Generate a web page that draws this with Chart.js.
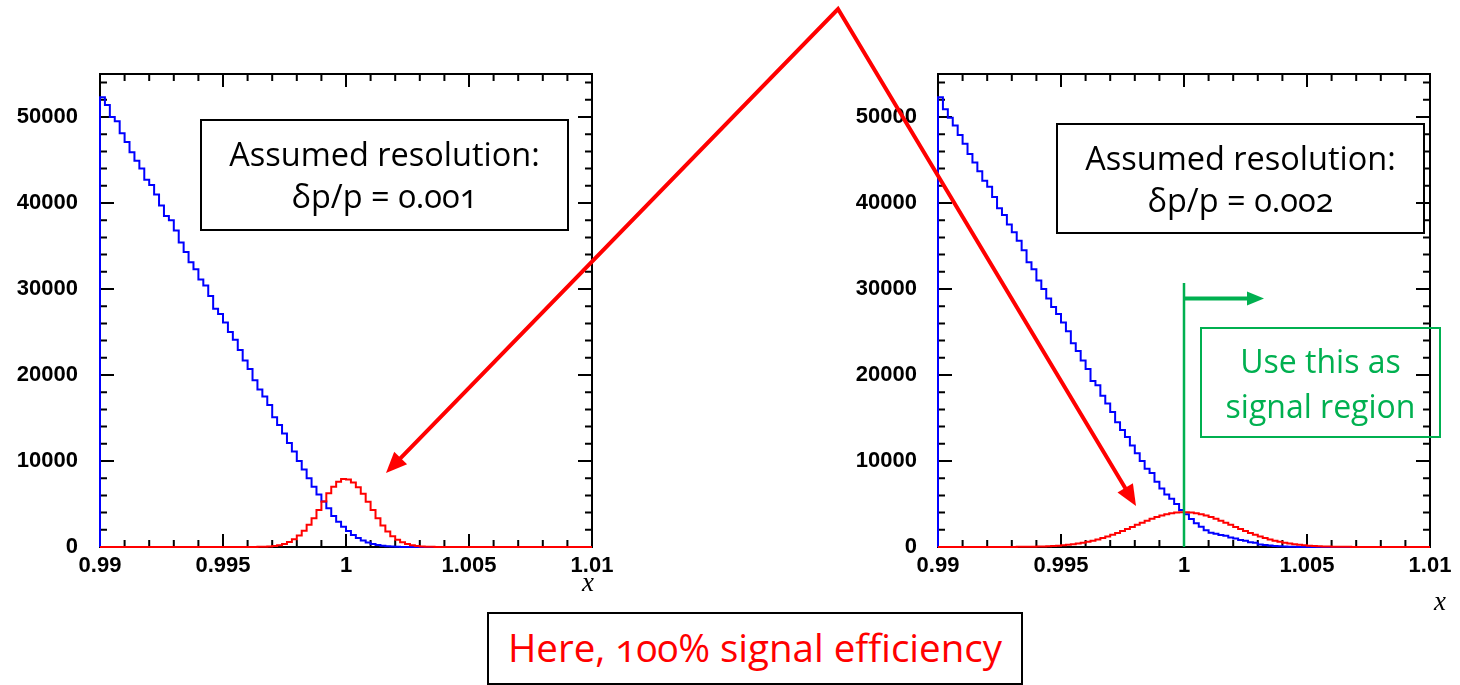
<!DOCTYPE html>
<html lang="en">
<head>
<meta charset="UTF-8">
<title>Signal region</title>
<style>
  body { margin: 0; width: 1460px; height: 685px; position: relative; overflow: hidden; background: #fff; }
  canvas { position: absolute; }
  #overlay { left: 0; top: 0; z-index: 10; pointer-events: none; }
  .box {
    position: absolute; box-sizing: border-box; border: 2px solid #000;
    display: flex; align-items: center; justify-content: center; text-align: center;
    font-family: "Open Sans", sans-serif; font-feature-settings: "onum";
  }
  .res { font-size: 32.5px; line-height: 42px; color: #000; }
  .green { border: 2px solid #00b050; color: #00b050; font-size: 32px; line-height: 45px; }
  .here { color: #ff0000; font-size: 38.5px; padding-bottom: 4px; }
  .xlab { position: absolute; font-family: "Liberation Serif", serif; font-style: italic; font-size: 27px; }
</style>
</head>
<body>

<canvas id="left" width="640" height="540" style="left:0;top:60px"></canvas>
<canvas id="right" width="620" height="540" style="left:840px;top:60px"></canvas>

<div class="box res" style="left:200px;top:119px;width:369px;height:112px">Assumed resolution:<br>&delta;p/p = 0.001</div>
<div class="box res" style="left:1056px;top:123px;width:369px;height:111px">Assumed resolution:<br>&delta;p/p = 0.002</div>
<div class="box green" style="left:1200px;top:327px;width:241px;height:111px">Use this as<br>signal region</div>
<div class="box here" style="left:487px;top:612px;width:536px;height:73px">Here, 100% signal efficiency</div>
<div class="xlab" style="left:582px;top:567px">x</div>
<div class="xlab" style="left:1434px;top:586px">x</div>

<canvas id="overlay" width="1460" height="685"></canvas>

<script src="https://cdn.jsdelivr.net/npm/chart.js"></script>
<script>
// histogram: 100 bins from 0.99 to 1.01
const xMin = 0.99, xMax = 1.01, binWidth = 0.0002
const xTickValues = [0.99, 0.995, 1, 1.005, 1.01]
const xTickLabels = ['0.99', '0.995', '1', '1.005', '1.01']
const yTickValues = [0, 10000, 20000, 30000, 40000, 50000]
const yTickLabels = ['0', '10000', '20000', '30000', '40000', '50000']
const yMax = 55000

// left plot, resolution 0.001
const bkgLeft = [
  52300, 51400, 50000, 49500, 48100, 47100, 45900, 44900, 44000, 42700,
  42100, 41000, 39700, 38500, 38000, 36800, 35400, 34300, 33100, 32300,
  31100, 30400, 29200, 27700, 27100, 26100, 25000, 24100, 22900, 21700,
  20700, 19400, 18300, 17500, 16500, 15100, 14200, 13200, 12100, 11100,
  10000, 9000, 8000, 7000, 6100, 5300, 4500, 3600, 2950, 2350,
  1850, 1400, 1050, 750, 520, 350, 230, 150, 90, 50,
  25, 10, 0, 0, 0, 0, 0, 0, 0, 0,
  0, 0, 0, 0, 0, 0, 0, 0, 0, 0,
  0, 0, 0, 0, 0, 0, 0, 0, 0, 0,
  0, 0, 0, 0, 0, 0, 0, 0, 0, 0
]
const sigLeft = [
  0, 0, 0, 0, 0, 0, 0, 0, 0, 0,
  0, 0, 0, 0, 0, 0, 0, 0, 0, 0,
  0, 0, 0, 0, 0, 0, 0, 0, 0, 0,
  0, 8, 17, 34, 65, 118, 205, 350, 570, 900,
  1330, 1900, 2600, 3350, 4300, 5300, 6250, 7000, 7600, 7900,
  7850, 7500, 6950, 6200, 5250, 4300, 3350, 2500, 1800, 1250,
  850, 550, 340, 200, 115, 60, 30, 15, 7, 0,
  0, 0, 0, 0, 0, 0, 0, 0, 0, 0,
  0, 0, 0, 0, 0, 0, 0, 0, 0, 0,
  0, 0, 0, 0, 0, 0, 0, 0, 0, 0
]

// right plot, resolution 0.002
const bkgRight = [
  52300, 50900, 49900, 49000, 47900, 46900, 45700, 44700, 43700, 42600,
  41900, 40700, 39400, 38600, 37500, 36600, 35600, 34500, 33100, 32300,
  31000, 30000, 28900, 27900, 27100, 26100, 25100, 23700, 22800, 21700,
  20700, 19300, 18800, 17600, 16700, 15700, 14500, 13600, 12800, 11800,
  10900, 10000, 9100, 8600, 7600, 6800, 6100, 5600, 5000, 4300,
  3800, 3250, 2750, 2350, 1950, 1650, 1550, 1400, 1300, 1100,
  1000, 820, 740, 560, 480, 300, 240, 180, 120, 80,
  50, 30, 15, 8, 0, 0, 0, 0, 0, 0,
  0, 0, 0, 0, 0, 0, 0, 0, 0, 0,
  0, 0, 0, 0, 0, 0, 0, 0, 0, 0
]
const sigRight = [
  0, 0, 0, 0, 0, 0, 0, 0, 0, 0,
  0, 0, 0, 5, 7, 10, 15, 20, 28, 38,
  52, 70, 92, 120, 155, 200, 255, 320, 400, 495,
  605, 730, 875, 1040, 1220, 1415, 1630, 1850, 2090, 2330,
  2580, 2820, 3060, 3280, 3480, 3660, 3810, 3925, 4005, 4045,
  4045, 4005, 3925, 3810, 3660, 3480, 3280, 3060, 2820, 2580,
  2330, 2090, 1850, 1630, 1415, 1220, 1040, 875, 730, 605,
  495, 400, 320, 255, 200, 155, 120, 92, 70, 52,
  38, 28, 20, 15, 10, 7, 0, 0, 0, 0,
  0, 0, 0, 0, 0, 0, 0, 0, 0, 0
]

// signal region cut (right plot)
const cutX = 1.0, cutTop = 30700, cutArrowY = 28900
const green = '#00b050'

function histPoints(vals) {
  const pts = [{ x: xMin, y: 0 }]
  vals.forEach((v, i) => pts.push({ x: xMin + i * binWidth, y: v }))
  pts.push({ x: xMax, y: vals[vals.length - 1] })
  return pts
}

// ROOT style frame with inward ticks on all four sides
const rootFrame = {
  id: 'rootFrame',
  beforeDatasetsDraw(chart) {
    const { ctx, chartArea: a, scales: { x, y } } = chart
    ctx.save()
    ctx.strokeStyle = '#000'
    ctx.lineWidth = 2
    ctx.strokeRect(a.left, a.top, a.right - a.left, a.bottom - a.top)
    ctx.beginPath()
    for (let i = 0; i <= 20; i++) {
      const px = x.getPixelForValue(xMin + i * 0.001)
      const len = i % 5 === 0 ? 13 : 7
      ctx.moveTo(px, a.bottom); ctx.lineTo(px, a.bottom - len)
      ctx.moveTo(px, a.top); ctx.lineTo(px, a.top + len)
    }
    for (let v = 0; v <= y.max; v += 2000) {
      const py = y.getPixelForValue(v)
      const len = v % 10000 === 0 ? 14 : 7
      ctx.moveTo(a.left, py); ctx.lineTo(a.left + len, py)
      ctx.moveTo(a.right, py); ctx.lineTo(a.right - len, py)
    }
    ctx.stroke()
    ctx.restore()
  }
}

const cutLine = {
  id: 'cutLine',
  afterDatasetsDraw(chart) {
    const { ctx, chartArea: a, scales: { x, y } } = chart
    const px = x.getPixelForValue(cutX)
    const top = y.getPixelForValue(cutTop)
    const ay = y.getPixelForValue(cutArrowY)
    ctx.save()
    ctx.strokeStyle = green
    ctx.fillStyle = green
    ctx.lineWidth = 2.5
    ctx.beginPath()
    ctx.moveTo(px, top); ctx.lineTo(px, a.bottom)
    ctx.stroke()
    ctx.lineWidth = 4
    ctx.beginPath()
    ctx.moveTo(px, ay); ctx.lineTo(px + 64, ay)
    ctx.stroke()
    ctx.beginPath()
    ctx.moveTo(px + 80, ay); ctx.lineTo(px + 63, ay - 7); ctx.lineTo(px + 63, ay + 7)
    ctx.closePath()
    ctx.fill()
    ctx.restore()
  }
}

function makeChart(id, bkg, sig, yWidth, yPad, rightPad, extra) {
  return new Chart(document.getElementById(id), {
    type: 'line',
    data: {
      datasets: [
        { data: histPoints(sig), borderColor: '#ff0000' },
        { data: histPoints(bkg), borderColor: '#0000ff' }
      ].map(d => Object.assign(d, { borderWidth: 2, pointRadius: 0, stepped: 'before', fill: false, clip: false }))
    },
    options: {
      responsive: false,
      animation: false,
      layout: { autoPadding: false, padding: { left: 0, top: 14, right: rightPad, bottom: 0 } },
      plugins: { legend: { display: false }, tooltip: { enabled: false } },
      scales: {
        x: {
          type: 'linear', min: xMin, max: xMax, bounds: 'data',
          grid: { display: false, drawTicks: false }, border: { display: false },
          afterBuildTicks: s => { s.ticks = xTickValues.map(v => ({ value: v })) },
          afterFit: s => { s.height = 53; s.paddingLeft = 0; s.paddingRight = 0 },
          ticks: {
            maxRotation: 0, autoSkip: false, padding: 6,
            color: '#000', font: { family: 'Liberation Sans', weight: 'bold', size: 22 },
            callback: (v, i) => xTickLabels[i]
          }
        },
        y: {
          min: 0, max: yMax, bounds: 'data',
          grid: { display: false, drawTicks: false }, border: { display: false },
          afterBuildTicks: s => { s.ticks = yTickValues.map(v => ({ value: v })) },
          afterFit: s => { s.width = yWidth; s.paddingTop = 0; s.paddingBottom = 0 },
          ticks: {
            padding: yPad, autoSkip: false,
            color: '#000', font: { family: 'Liberation Sans', weight: 'bold', size: 22 },
            callback: (v, i) => yTickLabels[i]
          }
        }
      }
    },
    plugins: [rootFrame].concat(extra)
  })
}

makeChart('left', bkgLeft, sigLeft, 100, 22, 48, [])
makeChart('right', bkgRight, sigRight, 98, 21, 30, [cutLine])

// red annotation arrows
const ov = document.getElementById('overlay').getContext('2d')
const apex = [838, 9]
const tips = [[386, 473], [1136, 506]]
function head(tip, from) {
  const dx = tip[0] - from[0], dy = tip[1] - from[1]
  const l = Math.hypot(dx, dy), ux = dx / l, uy = dy / l
  const bx = tip[0] - ux * 21, by = tip[1] - uy * 21
  ov.beginPath()
  ov.moveTo(tip[0], tip[1])
  ov.lineTo(bx - uy * 9, by + ux * 9)
  ov.lineTo(bx + uy * 9, by - ux * 9)
  ov.closePath()
  ov.fill()
  return [tip[0] - ux * 16, tip[1] - uy * 16]
}
ov.strokeStyle = '#ff0000'
ov.fillStyle = '#ff0000'
ov.lineWidth = 4
ov.lineJoin = 'miter'
const e0 = head(tips[0], apex)
const e1 = head(tips[1], apex)
ov.beginPath()
ov.moveTo(e0[0], e0[1])
ov.lineTo(apex[0], apex[1])
ov.lineTo(e1[0], e1[1])
ov.stroke()
</script>
</body>
</html>
